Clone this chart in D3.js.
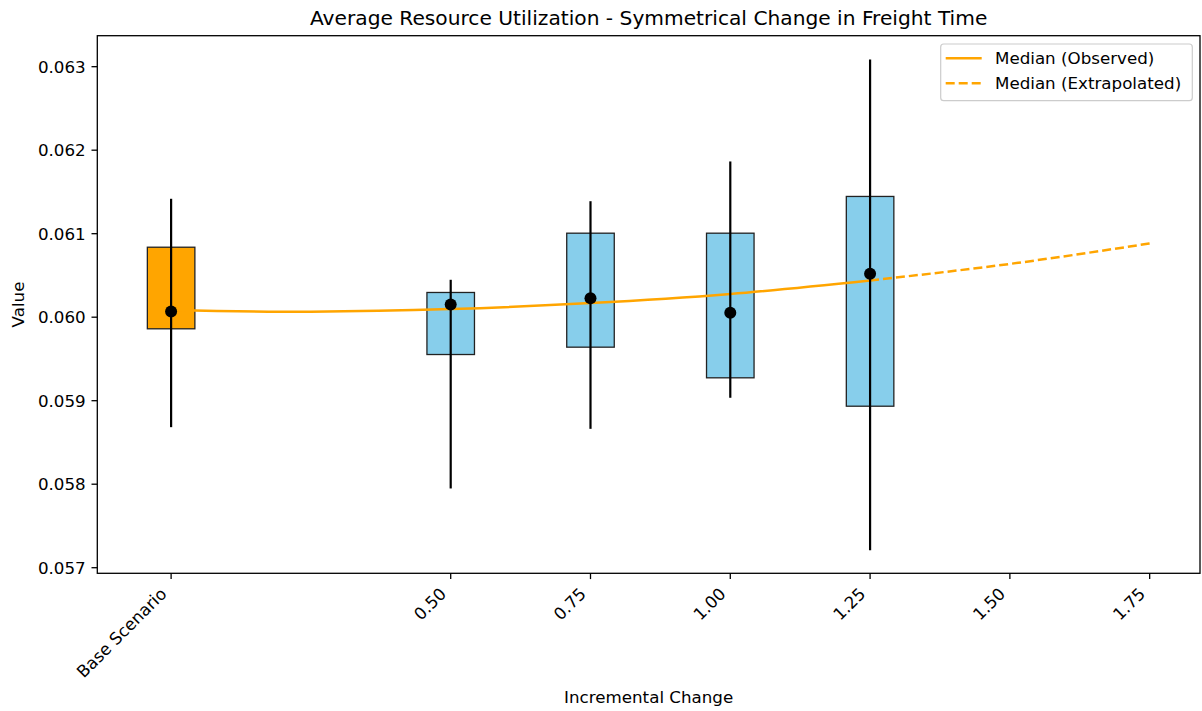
<meta charset="utf-8">
<head>
  <title>Average Resource Utilization</title>
</head>

<style>
body { margin: 0; background: #fff; }
svg text { font-family: "DejaVu Sans", sans-serif; fill: #000; }
</style>

<body>
  <svg width="1202" height="711"></svg>
  <script src="https://cdnjs.cloudflare.com/ajax/libs/d3/7.8.5/d3.min.js"></script>
  <script>

// scenario data
var categories = ["Base Scenario", "0.50", "0.75", "1.00", "1.25"];
var positions = [0, 0.5, 0.75, 1.0, 1.25];
var boxLow = [0.059861, 0.059553, 0.059641, 0.059274, 0.058934];
var boxHigh = [0.060838, 0.060296, 0.061006, 0.061006, 0.061446];
var medians = [0.060068, 0.060152, 0.060228, 0.060053, 0.060520];
var whiskerLow = [0.058683, 0.057949, 0.058663, 0.059035, 0.057210];
var whiskerHigh = [0.061418, 0.060448, 0.061389, 0.061865, 0.063086];

// fitted median curve
var observedX = [0, 0.25, 0.5, 0.75, 1.0, 1.25];
var observedY = [0.060083, 0.060066, 0.060097, 0.060169, 0.060278, 0.060440];
var extrapX = [1.25, 1.5, 1.75];
var extrapY = [0.060440, 0.060638, 0.060883];

var xTicks = [0, 0.5, 0.75, 1.0, 1.25, 1.5, 1.75];
var xTickLabels = ["Base Scenario", "0.50", "0.75", "1.00", "1.25", "1.50", "1.75"];
var yTicks = [0.057, 0.058, 0.059, 0.060, 0.061, 0.062, 0.063];

var svg = d3.select("svg");
var mLeft = 97.3, mRight = 1200, mTop = 35.7, mBottom = 573.3;
var barWidth = 0.085;

var x = d3.scaleLinear().domain([-0.132, 1.84]).range([mLeft, mRight]);
var y = d3.scaleLinear().domain([0.056933, 0.063371]).range([mBottom, mTop]);

var boxes = positions.map(function(p, i) {
  return { x: p, lo: boxLow[i], hi: boxHigh[i], med: medians[i],
           wlo: whiskerLow[i], whi: whiskerHigh[i], base: i == 0 };
});

// boxes
svg.append("g").selectAll("rect")
  .data(boxes)
  .enter().append("rect")
  .attr("x", function(d) { return x(d.x - barWidth / 2); })
  .attr("y", function(d) { return y(d.hi); })
  .attr("width", function(d) { return x(d.x + barWidth / 2) - x(d.x - barWidth / 2); })
  .attr("height", function(d) { return y(d.lo) - y(d.hi); })
  .style("fill", function(d) { return d.base ? "#FFA500" : "#87CEEB"; })
  .style("stroke", "#222")
  .style("stroke-width", 1.3);

// median curve
var line = d3.line()
  .x(function(d) { return x(d[0]); })
  .y(function(d) { return y(d[1]); })
  .curve(d3.curveNatural);

svg.append("path")
  .datum(observedX.map(function(v, i) { return [v, observedY[i]]; }))
  .attr("d", line)
  .style("fill", "none")
  .style("stroke", "#FFA500")
  .style("stroke-width", 2.5);

svg.append("path")
  .datum(extrapX.map(function(v, i) { return [v, extrapY[i]]; }))
  .attr("d", line)
  .style("fill", "none")
  .style("stroke", "#FFA500")
  .style("stroke-width", 2.5)
  .style("stroke-dasharray", "9,4");

// whiskers
svg.append("g").selectAll("line")
  .data(boxes)
  .enter().append("line")
  .attr("x1", function(d) { return x(d.x); })
  .attr("x2", function(d) { return x(d.x); })
  .attr("y1", function(d) { return y(d.whi); })
  .attr("y2", function(d) { return y(d.wlo); })
  .style("stroke", "#000")
  .style("stroke-width", 2.2);

// medians
svg.append("g").selectAll("circle")
  .data(boxes)
  .enter().append("circle")
  .attr("cx", function(d) { return x(d.x); })
  .attr("cy", function(d) { return y(d.med); })
  .attr("r", 6)
  .style("fill", "#000");

// axes frame
svg.append("rect")
  .attr("x", mLeft).attr("y", mTop)
  .attr("width", mRight - mLeft).attr("height", mBottom - mTop)
  .style("fill", "none").style("stroke", "#000").style("stroke-width", 1.3);

// y axis
var yAxis = svg.append("g");
yAxis.selectAll("line").data(yTicks).enter().append("line")
  .attr("x1", mLeft - 5.8).attr("x2", mLeft)
  .attr("y1", function(d) { return y(d); })
  .attr("y2", function(d) { return y(d); })
  .style("stroke", "#000").style("stroke-width", 1.3);
yAxis.selectAll("text").data(yTicks).enter().append("text")
  .attr("x", mLeft - 11.6)
  .attr("y", function(d) { return y(d); })
  .attr("dy", "0.36em")
  .attr("text-anchor", "end")
  .style("font-size", "16.7px")
  .text(function(d) { return d3.format(".3f")(d); });

// x axis
var xAxis = svg.append("g");
xAxis.selectAll("line").data(xTicks).enter().append("line")
  .attr("x1", function(d) { return x(d); })
  .attr("x2", function(d) { return x(d); })
  .attr("y1", mBottom).attr("y2", mBottom + 5.8)
  .style("stroke", "#000").style("stroke-width", 1.3);
xAxis.selectAll("text").data(xTicks).enter().append("text")
  .attr("transform", function(d) { return "translate(" + (x(d) - 3.5) + "," + 595 + ") rotate(-45)"; })
  .attr("text-anchor", "end")
  .style("font-size", "16.7px")
  .text(function(d, i) { return xTickLabels[i]; });

// labels
svg.append("text")
  .attr("x", (mLeft + mRight) / 2).attr("y", 25)
  .attr("text-anchor", "middle")
  .style("font-size", "20.2px")
  .text("Average Resource Utilization - Symmetrical Change in Freight Time");

svg.append("text")
  .attr("x", (mLeft + mRight) / 2).attr("y", 703)
  .attr("text-anchor", "middle")
  .style("font-size", "16.7px")
  .text("Incremental Change");

svg.append("text")
  .attr("transform", "translate(24," + ((mTop + mBottom) / 2) + ") rotate(-90)")
  .attr("text-anchor", "middle")
  .style("font-size", "16.7px")
  .text("Value");

// legend
var legend = svg.append("g");
legend.append("rect")
  .attr("x", 940.7).attr("y", 44)
  .attr("width", 251.6).attr("height", 56.7)
  .attr("rx", 3)
  .style("fill", "#fff").style("fill-opacity", 0.8)
  .style("stroke", "#ccc").style("stroke-width", 1.2);

var legendItems = [
  { label: "Median (Observed)", dash: null },
  { label: "Median (Extrapolated)", dash: "9,4" }
];
legendItems.forEach(function(d, i) {
  var ly = 58.3 + i * 25;
  legend.append("line")
    .attr("x1", 945.7).attr("x2", 981.7)
    .attr("y1", ly).attr("y2", ly)
    .style("stroke", "#FFA500").style("stroke-width", 2.5)
    .style("stroke-dasharray", d.dash);
  legend.append("text")
    .attr("x", 995).attr("y", ly).attr("dy", "0.36em")
    .style("font-size", "16.7px")
    .text(d.label);
});

</script>
</body>
</html>
